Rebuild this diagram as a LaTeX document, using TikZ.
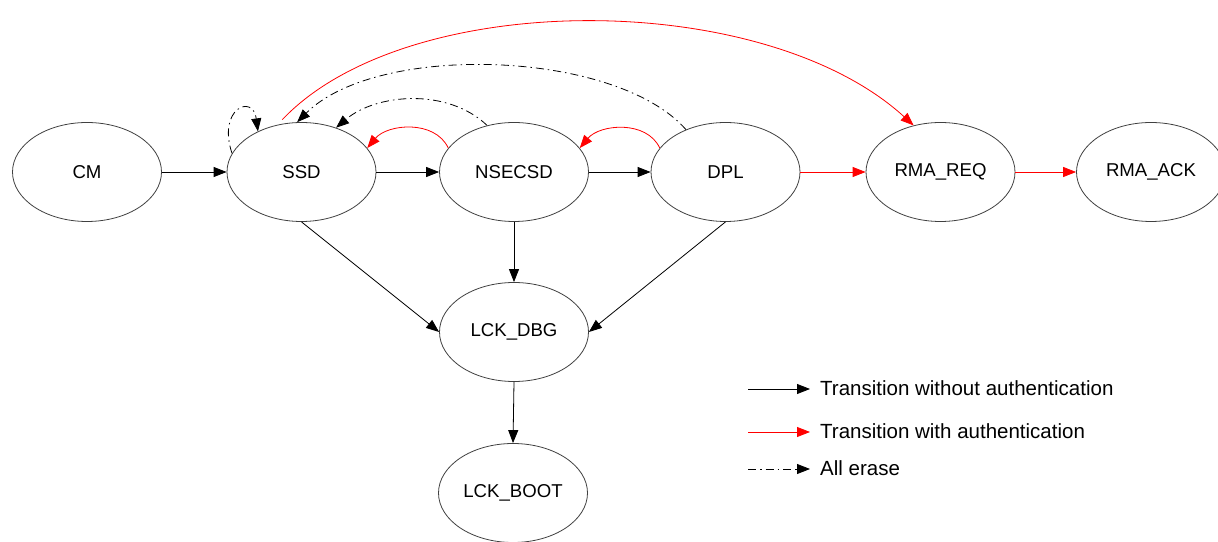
\documentclass[tikz,border=0pt]{standalone}
\usepackage{fontspec}
\setmainfont{Liberation Sans}
\usetikzlibrary{shapes.geometric,arrows.meta}
\begin{document}
\begin{tikzpicture}[x=1pt,y=1pt,
  state/.style={ellipse, draw=black!75, line width=0.8pt, minimum width=149pt, minimum height=99pt, inner sep=0pt, font=\fontsize{18.6}{20}\selectfont},
  tr/.style={line width=0.8pt, -{Triangle[length=13pt,width=10pt]}},
  auth/.style={tr, red},
  erase/.style={tr, dash pattern=on 8pt off 4pt on 1.5pt off 4pt},
  lbl/.style={anchor=west, font=\fontsize{20.5}{22}\selectfont, inner sep=0pt}]
\useasboundingbox (0,0) rectangle (1218,541);
% states
\node[state] (CM) at (87,369) {CM};
\node[state] (SSD) at (301.5,369) {SSD};
\node[state] (NSECSD) at (514,369) {NSECSD};
\node[state] (DPL) at (725.5,369) {DPL};
\node[state] (RMAREQ) at (940.5,369) {RMA\_REQ};
\node[state] (RMAACK) at (1151,369) {RMA\_ACK};
\node[state] (LCKDBG) at (514,209) {LCK\_DBG};
\node[state] (LCKBOOT) at (513,48) {LCK\_BOOT};
% straight transitions
\draw[tr] (CM) -- (SSD);
\draw[tr] (SSD) -- (NSECSD);
\draw[tr] (NSECSD) -- (DPL);
\draw[auth] (DPL) -- (RMAREQ);
\draw[auth] (RMAREQ) -- (RMAACK);
\draw[tr] (SSD.south) -- (LCKDBG.west);
\draw[tr] (NSECSD.south) -- (LCKDBG.north);
\draw[tr] (DPL.south) -- (LCKDBG.east);
\draw[tr] (LCKDBG.south) -- (LCKBOOT.north);
% authenticated back transitions
\draw[auth] (NSECSD.160) to[out=115, in=50] (SSD.20);
\draw[auth] (DPL.160) to[out=115, in=50] (NSECSD.20);
\draw[auth, shorten <=7pt] (SSD.117) .. controls +(130,137) and +(-150,137) .. (RMAREQ.120);
% all erase
\draw[erase] (SSD.165) .. controls +(-15,45) and +(-5,38) .. (SSD.137);
\draw[erase] (NSECSD.120) .. controls +(-40,38) and +(40,34) .. (SSD.52);
\draw[erase] (DPL.133) .. controls +(-70,80) and +(80,80) .. (SSD.95);
% legend
\coordinate (l1a) at (748,152); \coordinate (l1b) at (810,152);
\coordinate (l2a) at (748,109); \coordinate (l2b) at (810,109);
\coordinate (l3a) at (748,72);  \coordinate (l3b) at (810,72);
\draw[tr] (l1a) -- (l1b);
\draw[auth] (l2a) -- (l2b);
\draw[erase] (l3a) -- (l3b);
\node[lbl] (t1) at (820,153) {Transition without authentication};
\node[lbl] (t2) at (820,110) {Transition with authentication};
\node[lbl] (t3) at (820,73) {All erase};
\end{tikzpicture}
\end{document}
